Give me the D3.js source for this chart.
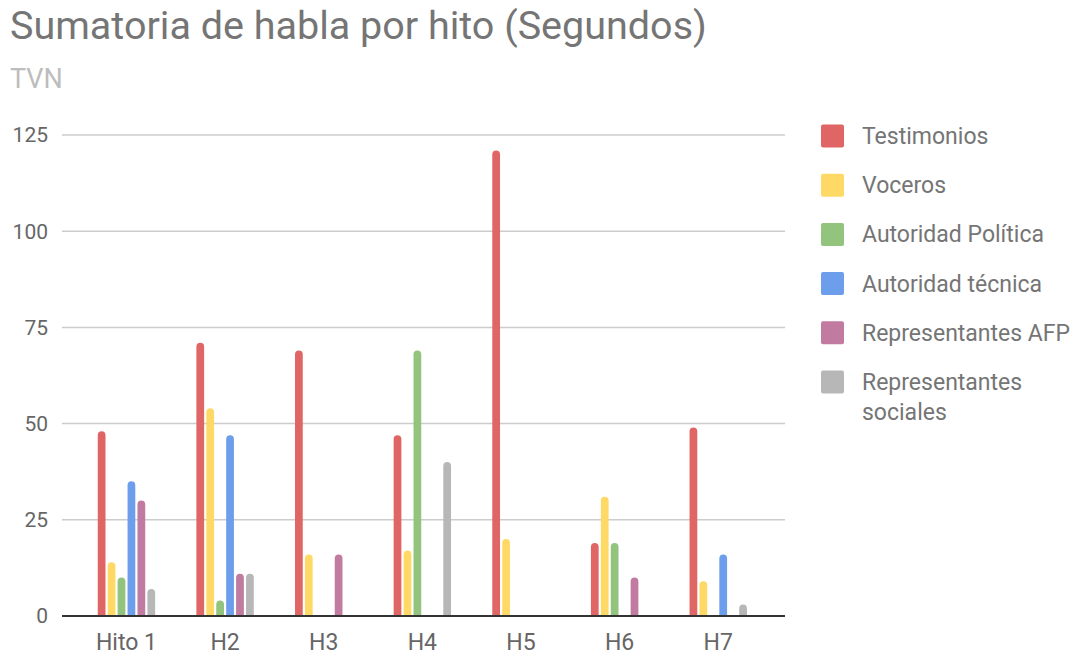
<!DOCTYPE html>
<html>
<head>
<meta charset="utf-8">
<script src="https://cdn.jsdelivr.net/npm/d3@7"></script>
<style>
  body { margin: 0; background: #fff; }
  text { font-family: Roboto, "Noto Sans", sans-serif; }
</style>
</head>
<body>
<svg width="1078" height="656"></svg>
<script>
var categories = ["Hito 1", "H2", "H3", "H4", "H5", "H6", "H7"];
var seriesNames = ["Testimonios", "Voceros", "Autoridad Política", "Autoridad técnica", "Representantes AFP", "Representantes sociales"];
var colors = ["#e06666", "#ffd966", "#93c47d", "#6d9eeb", "#c27ba0", "#b7b7b7"];

var testimonios   = [48, 71, 69, 47, 121, 19, 49];
var voceros       = [14, 54, 16, 17, 20, 31, 9];
var autPolitica   = [10, 4, 0, 69, 0, 19, 0];
var autTecnica    = [35, 47, 0, 0, 0, 0, 16];
var repAFP        = [30, 11, 16, 0, 0, 10, 0];
var repSociales   = [7, 11, 0, 40, 0, 0, 3];
var yTicks = [0, 25, 50, 75, 100, 125];

var seriesValues = [testimonios, voceros, autPolitica, autTecnica, repAFP, repSociales];

var svg = d3.select("svg");

var x0 = d3.scaleBand()
    .domain(categories)
    .range([97.75, 746.95])
    .paddingInner(0.418)
    .paddingOuter(0);

var x1 = d3.scaleBand()
    .domain(seriesNames)
    .range([0, x0.bandwidth()])
    .paddingInner(0.22)
    .paddingOuter(0);

var y = d3.scaleLinear()
    .domain([0, 125])
    .range([616, 135]);

// title
svg.append("text")
    .attr("x", 10).attr("y", 39)
    .attr("font-size", 39.5)
    .attr("fill", "#757575")
    .text("Sumatoria de habla por hito (Segundos)");

svg.append("text")
    .attr("x", 10).attr("y", 88)
    .attr("font-size", 27)
    .attr("fill", "#bdbdbd")
    .text("TVN");

// grid + y labels
var grid = svg.append("g");
grid.selectAll("line")
    .data(yTicks.filter(function(d) { return d > 0; }))
    .enter().append("line")
      .attr("x1", 62).attr("x2", 785)
      .attr("y1", function(d) { return y(d); })
      .attr("y2", function(d) { return y(d); })
      .attr("stroke", "#cccccc")
      .attr("stroke-width", 1.5);

svg.append("g").selectAll("text")
    .data(yTicks)
    .enter().append("text")
      .attr("x", 48)
      .attr("y", function(d) { return y(d); })
      .attr("dy", "0.35em")
      .attr("text-anchor", "end")
      .attr("font-size", 21)
      .attr("fill", "#666")
      .text(function(d) { return d; });

// bars
function barPath(x, w, top, bottom) {
  var r = Math.min(w / 2, bottom - top);
  return "M" + x + "," + bottom +
    "V" + (top + r) +
    "A" + r + "," + r + " 0 0 1 " + (x + r) + "," + top +
    "H" + (x + w - r) +
    "A" + r + "," + r + " 0 0 1 " + (x + w) + "," + (top + r) +
    "V" + bottom + "Z";
}

var groups = svg.append("g").selectAll("g")
    .data(categories)
    .enter().append("g")
      .attr("transform", function(d) { return "translate(" + x0(d) + ",0)"; });

groups.selectAll("path")
    .data(function(d, i) {
      return seriesNames.map(function(s, j) { return {series: s, idx: j, value: seriesValues[j][i]}; });
    })
    .enter().append("path")
      .filter(function(d) { return d.value > 0; })
      .attr("d", function(d) { return barPath(x1(d.series), x1.bandwidth(), y(d.value), y(0)); })
      .attr("fill", function(d) { return colors[d.idx]; });

// baseline
svg.append("line")
    .attr("x1", 62).attr("x2", 785)
    .attr("y1", y(0)).attr("y2", y(0))
    .attr("stroke", "#333")
    .attr("stroke-width", 2);

// x labels
svg.append("g").selectAll("text")
    .data(categories)
    .enter().append("text")
      .attr("x", function(d) { return x0(d) + x0.bandwidth() / 2; })
      .attr("y", 650)
      .attr("text-anchor", "middle")
      .attr("font-size", 23)
      .attr("fill", "#666")
      .text(function(d) { return d; });

// legend
var legend = svg.append("g").selectAll("g")
    .data(seriesNames)
    .enter().append("g")
      .attr("transform", function(d, i) { return "translate(821," + (136 + i * 49.2) + ")"; });

legend.append("rect")
    .attr("x", 0).attr("y", -11.5)
    .attr("width", 23).attr("height", 23)
    .attr("rx", 2)
    .attr("fill", function(d, i) { return colors[i]; });

legend.append("text")
    .attr("x", 41)
    .attr("font-size", 23)
    .attr("fill", "#757575")
    .each(function(d) {
      var lines = d === "Representantes sociales" ? ["Representantes", "sociales"] : [d];
      var t = d3.select(this);
      lines.forEach(function(l, k) {
        t.append("tspan")
          .attr("x", 41)
          .attr("y", k * 29.5)
          .attr("dy", "0.35em")
          .text(l);
      });
    });
</script>
</body>
</html>
